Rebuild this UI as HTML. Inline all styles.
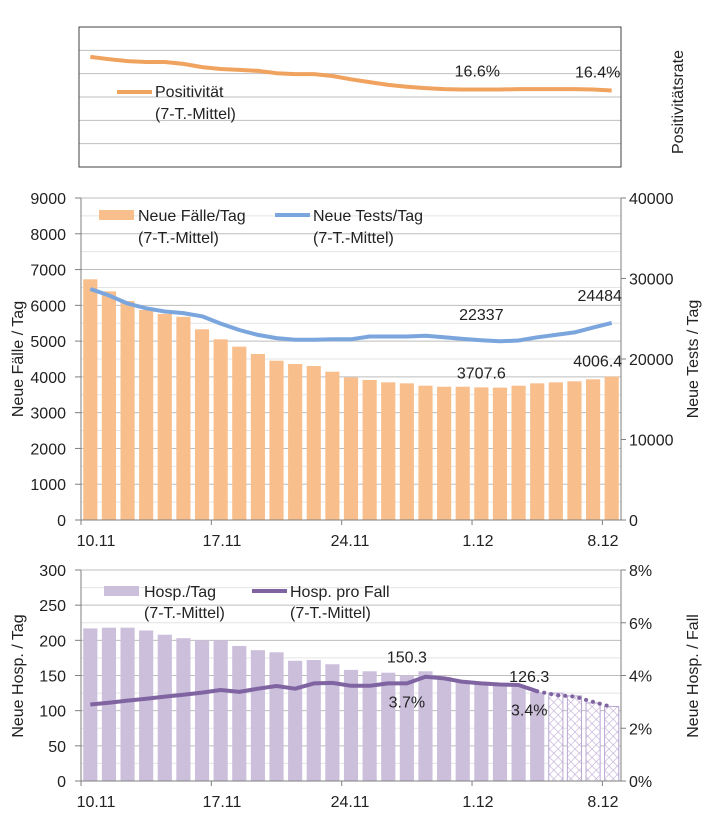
<!DOCTYPE html>
<html><head><meta charset="utf-8"><style>
body{margin:0;background:#fff}
svg{display:block;font-family:"Liberation Sans",sans-serif}
</style></head><body>
<svg id="c" width="709" height="833" viewBox="0 0 709 833" xmlns="http://www.w3.org/2000/svg"></svg>
<script>
const dates = ["10.11","17.11","24.11","1.12","8.12"];
const positivity = [23.6,23.1,22.7,22.5,22.5,22.1,21.4,21.0,20.8,20.6,20.1,19.9,19.9,19.5,18.8,18.2,17.6,17.2,16.9,16.7,16.6,16.6,16.6,16.7,16.7,16.7,16.7,16.6,16.4];
const cases = [6727,6391,6120,5870,5760,5680,5330,5050,4845,4640,4452,4360,4304,4145,3988,3913,3848,3820,3754,3726,3726,3707.6,3700,3754,3820,3848,3876,3932,4006.4];
const tests = [28700,27900,26900,26300,25900,25700,25300,24400,23600,23000,22600,22400,22400,22450,22450,22800,22800,22800,22900,22700,22500,22337,22200,22300,22700,23000,23300,23900,24484];
const hosp = [217,218,218,214,208,203,200,200,192,186,183,171,172,166,158,156,154,150.3,156,148,143,141,139,134,126.3,125,121,111,106];
const hospRate = [2.9,2.97,3.05,3.12,3.2,3.27,3.35,3.45,3.38,3.5,3.6,3.5,3.7,3.72,3.61,3.61,3.7,3.7,3.95,3.89,3.76,3.7,3.66,3.64,3.4,3.26,3.2,3.0,2.81];
const leftTicksCases = [0,1000,2000,3000,4000,5000,6000,7000,8000,9000];
const rightTicksTests = [0,10000,20000,30000,40000];
const leftTicksHosp = [0,50,100,150,200,250,300];
const rightTicksRate = [0,2,4,6,8];

const FS=16;
const NS="http://www.w3.org/2000/svg", svg=document.getElementById('c');
function el(t,a,p){const e=document.createElementNS(NS,t);for(const k in a)e.setAttribute(k,a[k]);(p||svg).appendChild(e);return e;}
function txt(s,a,p){const e=el('text',Object.assign({'font-size':FS,fill:'#222'},a),p);e.textContent=s;return e;}
const X0=81,X1=621,N=cases.length,BW=(X1-X0)/N;
const xc=i=>X0+BW*(i+0.5);
function path(vals,fy,from,to){let d='';for(let i=from;i<=to;i++)d+=(i==from?'M':'L')+xc(i).toFixed(1)+','+fy(vals[i]).toFixed(1);return d;}

const defs=el('defs',{});
const pat=el('pattern',{id:'hatch',width:6,height:6,patternUnits:'userSpaceOnUse',patternTransform:'rotate(45)'},defs);
el('rect',{width:6,height:6,fill:'#fff'},pat);
el('line',{x1:0,y1:0,x2:0,y2:6,stroke:'#b9a6d2','stroke-width':1},pat);
el('line',{x1:0,y1:3,x2:6,y2:3,stroke:'#b9a6d2','stroke-width':0.6},pat);

// ---- top panel
const g1=el('g',{});


const T0=167,TT=27,ty=v=>T0-v/30*(T0-TT);
for(let k=1;k<6;k++)el('line',{x1:X0-2,x2:X1,y1:ty(k*5),y2:ty(k*5),stroke:'#bfbfbf'},g1);
el('rect',{x:X0-2,y:TT,width:X1-X0+2,height:T0-TT,fill:'none',stroke:'#404040'},g1);
const pl=el('path',{d:path(positivity,ty,0,N-1),fill:'none',stroke:'#f0a35e','stroke-width':4,'stroke-linejoin':'round'},g1);


txt('16.6%',{x:xc(21)-4,y:ty(positivity[21])-13,'text-anchor':'middle'},g1);
txt('16.4%',{x:xc(28)-14,y:ty(positivity[28])-13,'text-anchor':'middle'},g1);
el('line',{x1:117,x2:152,y1:92,y2:92,stroke:'#f0a35e','stroke-width':4},g1);
txt('Positivität',{x:155,y:97},g1);
txt('(7-T.-Mittel)',{x:155,y:119},g1);
txt('Positivitätsrate',{transform:'translate(683,102) rotate(-90)','text-anchor':'middle'},g1);

// ---- middle panel
const g2=el('g',{});


const M0=520,MT=198,my=v=>M0-v/9000*(M0-MT),my2=v=>M0-v/40000*(M0-MT);
for(let v=500;v<=9000;v+=500)el('line',{x1:X0,x2:X1,y1:my(v),y2:my(v),stroke:v%1000?'#e4e4e4':'#bdbdbd'},g2);
cases.forEach((v,i)=>{const r=el('rect',{x:xc(i)-BW*0.38,y:my(v),width:BW*0.76,height:M0-my(v),fill:'#f8bf8c'},g2);

});
el('line',{x1:X0,x2:X0,y1:MT,y2:M0,stroke:'#7f7f7f'},g2);
el('line',{x1:X1,x2:X1,y1:MT,y2:M0,stroke:'#7f7f7f'},g2);
el('line',{x1:X0-6,x2:X1,y1:M0,y2:M0,stroke:'#7f7f7f'},g2);
leftTicksCases.forEach(v=>{el('line',{x1:X0-6,x2:X0,y1:my(v),y2:my(v),stroke:'#7f7f7f'},g2);
txt(String(v),{x:66,y:my(v)+6,'text-anchor':'end'},g2);});
rightTicksTests.forEach(v=>{el('line',{x1:X1,x2:X1+5,y1:my2(v),y2:my2(v),stroke:'#7f7f7f'},g2);
txt(String(v),{x:629,y:my2(v)+6},g2);});
const tl=el('path',{d:path(tests,my2,0,N-1),fill:'none',stroke:'#7ba6dd','stroke-width':4,'stroke-linejoin':'round'},g2);


txt('22337',{x:xc(21),y:my2(tests[21])-20,'text-anchor':'middle'},g2);
txt('24484',{x:xc(28)-12,y:my2(tests[28])-22,'text-anchor':'middle'},g2);
txt('3707.6',{x:xc(21),y:my(cases[21])-9,'text-anchor':'middle'},g2);
txt('4006.4',{x:xc(28)-14,y:my(cases[28])-10,'text-anchor':'middle'},g2);
el('rect',{x:99,y:210,width:35,height:10,fill:'#f8bf8c'},g2);
txt('Neue Fälle/Tag',{x:138,y:221},g2);
txt('(7-T.-Mittel)',{x:138,y:243},g2);
el('line',{x1:275,x2:310,y1:215,y2:215,stroke:'#7ba6dd','stroke-width':4},g2);
txt('Neue Tests/Tag',{x:313,y:221},g2);
txt('(7-T.-Mittel)',{x:313,y:243},g2);
txt('Neue Fälle / Tag',{transform:'translate(23,359) rotate(-90)','text-anchor':'middle'},g2);
txt('Neue Tests / Tag',{transform:'translate(698,359) rotate(-90)','text-anchor':'middle'},g2);

// ---- bottom panel
const g3=el('g',{});


const B0=781,BT=570,by=v=>B0-v/300*(B0-BT),by2=v=>B0-v/8*(B0-BT);
for(let v=25;v<=300;v+=25)el('line',{x1:X0,x2:X1,y1:by(v),y2:by(v),stroke:v%50?'#e4e4e4':'#bdbdbd'},g3);
hosp.forEach((v,i)=>{const h=i>=25;const r=el('rect',{x:xc(i)-BW*0.38,y:by(v),width:BW*0.76,height:B0-by(v),fill:h?'url(#hatch)':'#cbbfdc',stroke:h?'#b9a6d2':'none'},g3);

});
el('line',{x1:X0,x2:X0,y1:BT,y2:B0,stroke:'#7f7f7f'},g3);
el('line',{x1:X1,x2:X1,y1:BT,y2:B0,stroke:'#7f7f7f'},g3);
el('line',{x1:X0-6,x2:X1,y1:B0,y2:B0,stroke:'#7f7f7f'},g3);
leftTicksHosp.forEach(v=>{el('line',{x1:X0-6,x2:X0,y1:by(v),y2:by(v),stroke:'#7f7f7f'},g3);
txt(String(v),{x:66,y:by(v)+6,'text-anchor':'end'},g3);});
rightTicksRate.forEach(v=>{el('line',{x1:X1,x2:X1+5,y1:by2(v),y2:by2(v),stroke:'#7f7f7f'},g3);
txt(v+'%',{x:629,y:by2(v)+6},g3);});
const hl=el('path',{d:path(hospRate,by2,0,24),fill:'none',stroke:'#8064a2','stroke-width':4,'stroke-linejoin':'round'},g3);


const hd=el('path',{d:path(hospRate,by2,24,N-1),fill:'none',stroke:'#8064a2','stroke-width':4,'stroke-dasharray':'0.1 7','stroke-linecap':'round'},g3);


txt('150.3',{x:xc(17),y:by(hosp[17])-13,'text-anchor':'middle'},g3);
txt('126.3',{x:xc(24)-8,y:by(hosp[24])-10,'text-anchor':'middle'},g3);
txt('3.7%',{x:xc(17),y:by2(hospRate[17])+24,'text-anchor':'middle'},g3);
txt('3.4%',{x:xc(24)-8,y:by2(hospRate[24])+24,'text-anchor':'middle'},g3);
el('rect',{x:104,y:586,width:35,height:10,fill:'#cbbfdc'},g3);
txt('Hosp./Tag',{x:144,y:597},g3);
txt('(7-T.-Mittel)',{x:144,y:618},g3);
el('line',{x1:252,x2:287,y1:591,y2:591,stroke:'#8064a2','stroke-width':4},g3);
txt('Hosp. pro Fall',{x:290,y:597},g3);
txt('(7-T.-Mittel)',{x:290,y:618},g3);
txt('Neue Hosp. / Tag',{transform:'translate(23,676) rotate(-90)','text-anchor':'middle'},g3);
txt('Neue Hosp. / Fall',{transform:'translate(698,676) rotate(-90)','text-anchor':'middle'},g3);

const lx=[96,222,350,478,603];
dates.forEach((d,k)=>{
 [M0,B0].forEach(Y=>{const tx=X0+BW*7*k;el('line',{x1:tx,x2:tx,y1:Y,y2:Y+5,stroke:'#7f7f7f'});
 const t=txt(d,{x:lx[k],y:Y+26,'text-anchor':'middle'});
 
 });
});
</script>
</body></html>
